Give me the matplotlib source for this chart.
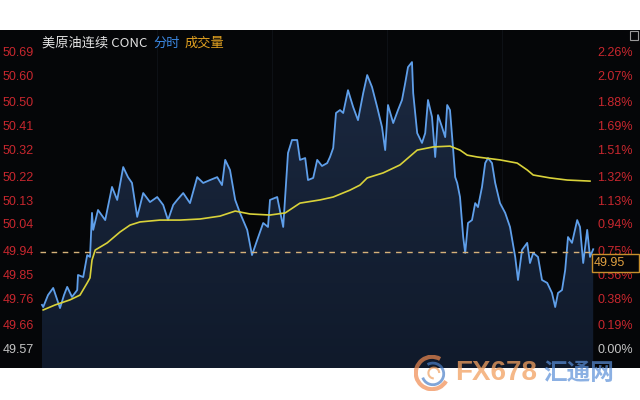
import numpy as np
import matplotlib
matplotlib.use("Agg")
import matplotlib.pyplot as plt
import matplotlib.transforms as mtransforms
from matplotlib.colors import LinearSegmentedColormap
from matplotlib.patches import Rectangle, Arc

plt.rcParams['font.family'] = ['Liberation Sans', 'Noto Sans CJK SC', 'DejaVu Sans']

# ==============================
# Data
# ==============================
minutes = [0, 3, 15, 28, 38, 45, 55, 63, 75, 88, 90, 103, 113, 120, 125, 128, 140, 158,
           175, 188, 203, 215, 225, 238, 253, 270, 288, 303, 315, 328, 338, 353, 370, 388,
           403, 420, 438, 450, 458, 470, 483, 495, 513, 525, 538, 553, 565, 570, 588, 603,
           615, 625, 638, 645, 658, 665, 678, 688, 700, 713, 720, 728, 735, 745, 753, 765,
           778, 790, 803, 813, 825, 838, 850, 858, 865, 878, 890, 900, 908, 915, 925, 928,
           938, 950, 958, 965, 975, 983, 990, 1000, 1008, 1013, 1020, 1028, 1033, 1038,
           1045, 1053, 1058, 1065, 1075, 1083, 1090, 1100, 1108, 1115, 1125, 1133, 1145,
           1158, 1170, 1183, 1190, 1200, 1213, 1220, 1228, 1240, 1250, 1263, 1275, 1283,
           1290, 1300, 1308, 1315, 1325, 1338, 1345, 1353, 1363, 1370, 1378]
price = [49.740, 49.732, 49.777, 49.804, 49.759, 49.728, 49.777, 49.808, 49.770, 49.796,
         49.853, 49.845, 49.928, 49.921, 50.087, 50.023, 50.098, 50.060, 50.185, 50.136,
         50.260, 50.222, 50.200, 50.072, 50.162, 50.128, 50.147, 50.117, 50.060, 50.117,
         50.136, 50.162, 50.124, 50.222, 50.200, 50.211, 50.222, 50.192, 50.287, 50.249,
         50.136, 50.087, 50.023, 49.928, 49.985, 50.049, 50.034, 50.136, 50.147, 50.034,
         50.313, 50.362, 50.362, 50.287, 50.294, 50.211, 50.219, 50.287, 50.264, 50.275,
         50.298, 50.332, 50.464, 50.475, 50.464, 50.550, 50.486, 50.437, 50.539, 50.607,
         50.562, 50.486, 50.411, 50.324, 50.494, 50.426, 50.475, 50.513, 50.577, 50.637,
         50.656, 50.539, 50.388, 50.351, 50.388, 50.513, 50.449, 50.298, 50.456, 50.411,
         50.373, 50.494, 50.475, 50.324, 50.222, 50.200, 50.147, 49.996, 49.936, 50.049,
         50.060, 50.124, 50.109, 50.185, 50.275, 50.294, 50.275, 50.200, 50.124, 50.087,
         50.034, 49.921, 49.834, 49.947, 49.974, 49.898, 49.936, 49.921, 49.834, 49.823,
         49.785, 49.732, 49.785, 49.796, 49.872, 49.996, 49.974, 50.060, 50.034, 49.898,
         50.023, 49.921, 49.950]

avg_minutes = [3, 33, 70, 95, 113, 120, 125, 133, 163, 195, 220, 245, 295, 345, 395, 445,
               483, 520, 570, 608, 645, 695, 728, 770, 795, 813, 853, 895, 938, 978, 1020,
               1045, 1063, 1088, 1145, 1188, 1213, 1228, 1270, 1313, 1370]
avg_price = [49.721, 49.740, 49.759, 49.777, 49.823, 49.842, 49.909, 49.947, 49.974, 50.015,
             50.041, 50.053, 50.060, 50.060, 50.064, 50.075, 50.094, 50.083, 50.079, 50.087,
             50.124, 50.136, 50.147, 50.173, 50.192, 50.219, 50.238, 50.268, 50.324, 50.336,
             50.339, 50.324, 50.305, 50.298, 50.287, 50.275, 50.249, 50.230, 50.219, 50.211,
             50.207]

left_ticks = [50.69, 50.60, 50.50, 50.41, 50.32, 50.22, 50.13, 50.04, 49.94, 49.85, 49.76, 49.66, 49.57]
right_ticks = ["2.26%", "2.07%", "1.88%", "1.69%", "1.51%", "1.32%", "1.13%", "0.94%",
               "0.75%", "0.56%", "0.38%", "0.19%", "0.00%"]
ref_price = 49.94
last_price = 49.95
grid_minutes = [288, 575, 863, 1150]

# ==============================
# Figure / axes
# ==============================
W, H = 640, 400
fig = plt.figure(figsize=(6.4, 4.0), dpi=100)
fig.patch.set_facecolor("white")

def fx(px):
    return px / W

def fy(py):
    return 1 - py / H

# black band behind everything
fig.patches.append(Rectangle((0, fy(368)), 1, fy(30) - fy(368), transform=fig.transFigure,
                             facecolor="#050608", edgecolor="none", zorder=-5))

ax = fig.add_axes([fx(40), fy(368), fx(595) - fx(40), fy(30) - fy(368)])
ax.set_zorder(1)
ax.set_facecolor("#050608")
ax.set_xlim(-5, 1382.5)
ax.set_ylim(49.502, 50.777)
for s in ax.spines.values():
    s.set_visible(False)
ax.set_xticks([])
ax.set_yticks([])

for g in grid_minutes:
    ax.axvline(g, color="#0d1015", lw=0.8, zorder=1)

# gradient fill under price line
cmap = LinearSegmentedColormap.from_list("fill", ["#101a2b", "#1c2a42"])
grad = np.linspace(0, 1, 256).reshape(-1, 1)
img = ax.imshow(grad, aspect="auto", cmap=cmap, origin="lower",
                extent=[-5, 1382.5, 49.502, 50.777], zorder=2)
poly = ax.fill_between(minutes, price, 49.502, color="none", lw=0)
clip = poly.get_paths()[0]
img.set_clip_path(clip, transform=ax.transData)

ax.plot(minutes, price, color="#5f9fea", lw=1.3, zorder=4)
ax.plot(avg_minutes, avg_price, color="#d9d23a", lw=1.2, zorder=5)
ax.axhline(ref_price, color="#d6b27a", lw=1.0, ls=(0, (4, 4)), zorder=6)

# ==============================
# Tick labels
# ==============================
trans = mtransforms.blended_transform_factory(fig.transFigure, ax.transData)
red = "#c8272e"
grey = "#c4c4c4"
for v, pct in zip(left_ticks, right_ticks):
    c = grey if v == left_ticks[-1] else red
    ax.text(fx(3), v, f"{v:.2f}", transform=trans, ha="left", va="center",
            color=c, fontsize=9, clip_on=False)
    ax.text(fx(597), v, pct, transform=trans, ha="left", va="center",
            color=c, fontsize=9, clip_on=False)

# last price box (covers part of the 0.75% label like the original)
box = Rectangle((fx(592), fy(272)), fx(47), fy(254) - fy(272), transform=fig.transFigure,
                facecolor="#050608", edgecolor="#c8902c", lw=1, zorder=9, clip_on=False)
ax.add_artist(box)
ax.text(fx(594), fy(263), f"{last_price:.2f}", transform=fig.transFigure,
        ha="left", va="center", color="#e0a040", fontsize=9, zorder=10, clip_on=False)

# title
cjk = ["Noto Sans CJK SC", "DejaVu Sans"]
t1 = ax.text(fx(42), fy(43), "美原油连续 CONC", transform=fig.transFigure, color="#e2e2e2",
             fontsize=9.5, va="center", ha="left", family=cjk, clip_on=False)
t2 = ax.annotate("分时", xy=(1, 0.5), xycoords=t1, xytext=(4, 0), textcoords="offset points",
                 va="center", ha="left", color="#3b87e0", fontsize=9.5, family=cjk)
ax.annotate("成交量", xy=(1, 0.5), xycoords=t2, xytext=(4, 0), textcoords="offset points",
            va="center", ha="left", color="#e0a020", fontsize=9.5, family=cjk)

# small icon top right
fig.patches.append(Rectangle((fx(630), fy(40)), fx(8), fy(31) - fy(40), transform=fig.transFigure,
                             facecolor="none", edgecolor="#9a9a9a", lw=0.8, zorder=10))

# ==============================
# Watermark
# ==============================
lax = fig.add_axes([fx(414), fy(392), fx(36), fy(354) - fy(392)])
lax.set_zorder(5)
lax.set_xlim(-1, 1)
lax.set_ylim(-1, 1)
lax.set_aspect("equal")
lax.axis("off")
lax.add_patch(Arc((0, 0), 1.8, 1.8, theta1=60, theta2=330, color="#f08a50", lw=3, alpha=0.7))
lax.add_patch(Arc((0.05, -0.05), 1.2, 1.2, theta1=200, theta2=480, color="#4a7fc8", lw=2, alpha=0.7))
lax.add_patch(Arc((0.1, 0.0), 0.6, 0.6, theta1=0, theta2=270, color="#f0a060", lw=1.5, alpha=0.7))

fig.text(fx(455), fy(373), "FX678", color="#f2a060", alpha=0.75, fontsize=20,
         fontweight="bold", ha="left", va="center", zorder=11)
fig.text(fx(543), fy(373), "汇通网", color="#5a8fd8", alpha=0.7, fontsize=17,
         fontweight="bold", ha="left", va="center", zorder=11, family=cjk)

fig.savefig("out.png", dpi=100, facecolor=fig.get_facecolor())
